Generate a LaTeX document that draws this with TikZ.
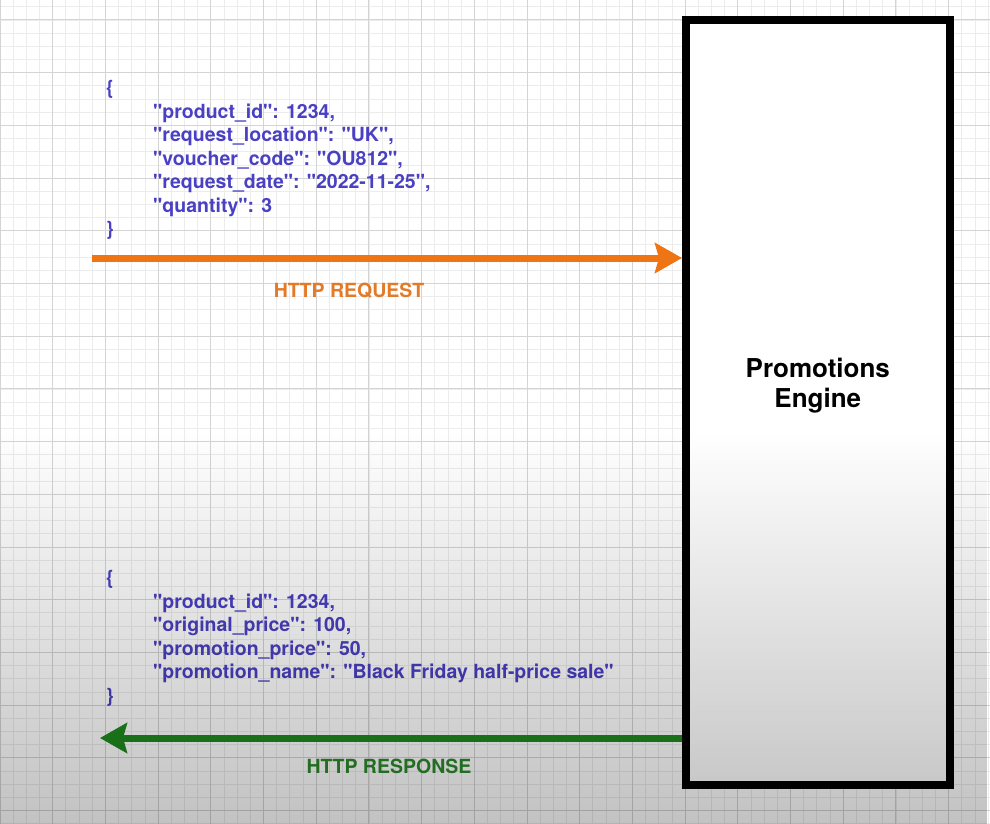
\documentclass[tikz,border=0pt]{standalone}
\usepackage{fontspec}
\setmainfont{TeX Gyre Heros}
\usetikzlibrary{arrows.meta,fadings}

\definecolor{jsoncol}{HTML}{4A40C4}
\definecolor{reqcol}{HTML}{EF7414}
\definecolor{reqtext}{HTML}{E27A28}
\definecolor{respcol}{HTML}{1F8A1F}
\definecolor{resptext}{HTML}{2C8A2C}
\definecolor{minorgrid}{HTML}{ECECEC}
\definecolor{majorgrid}{HTML}{D4D4D4}

% straight double quote for the JSON keys and strings
\newcommand{\jq}{\textquotedbl}

% darkening towards the bottom of the sheet
\tikzfading[name=floorshade, top color=transparent!100, bottom color=transparent!0]

\begin{document}
\begin{tikzpicture}[x=1pt,y=-1pt,
  minorline/.style={draw=minorgrid, line width=0.8pt},
  majorline/.style={draw=majorgrid, line width=1pt},
  json/.style={text=jsoncol, font=\fontsize{19.5}{23.5}\selectfont\bfseries,
    align=left, anchor=base west, inner sep=0pt},
  flowlabel/.style={font=\fontsize{19.5}{23.5}\selectfont\bfseries,
    anchor=base, inner sep=0pt},
  enginebox/.style={draw=black, line width=8pt, fill=white,
    minimum width=263.5pt, minimum height=765pt, inner sep=0pt},
  enginetext/.style={font=\fontsize{26}{30}\selectfont\bfseries,
    align=center, anchor=base, inner sep=0pt},
  reqarrow/.style={draw=reqcol, line width=7pt,
    -{Stealth[length=27pt, width=30pt, inset=4pt]}},
  resparrow/.style={draw=respcol, line width=7pt,
    -{Stealth[length=27pt, width=30pt, inset=4pt]}}
]
\useasboundingbox (0,0) rectangle (990,824);
\fill[white] (0,0) rectangle (990,824);

% graph paper
\foreach \i in {0,...,75}
  \draw[minorline] ({\i*13.175},0) -- ({\i*13.175},824);
\foreach \j in {0,...,62}
  \draw[minorline] (0,{6.825+\j*13.175}) -- (990,{6.825+\j*13.175});
\foreach \i in {0,...,18}
  \draw[majorline] ({\i*52.7},0) -- ({\i*52.7},824);
\foreach \j in {0,...,15}
  \draw[majorline] (0,{20+\j*52.7}) -- (990,{20+\j*52.7});

% the service (multi-line nodes sit on the baseline of their last line)
\node[enginebox] (engine) at (817.75,402.5) {};
\node[enginetext] (enginename) at (817.75,407) {Promotions\\Engine};

% request payload
\node[json] (reqjson) at (106,235.5) {\{\\
\hspace*{47pt}\jq product\_id\jq: 1234,\\
\hspace*{47pt}\jq request\_location\jq: \jq UK\jq,\\
\hspace*{47pt}\jq voucher\_code\jq: \jq OU812\jq,\\
\hspace*{47pt}\jq request\_date\jq: \jq 2022-11-25\jq,\\
\hspace*{47pt}\jq quantity\jq: 3\\
\}};

% response payload
\node[json] (respjson) at (106,702) {\{\\
\hspace*{47pt}\jq product\_id\jq: 1234,\\
\hspace*{47pt}\jq original\_price\jq: 100,\\
\hspace*{47pt}\jq promotion\_price\jq: 50,\\
\hspace*{47pt}\jq promotion\_name\jq: \jq Black Friday half-price sale\jq\\
\}};

% request / response flows
\coordinate (reqstart) at (92,258);
\coordinate (respend) at (100,738);
\draw[reqarrow] (reqstart) -- (reqstart -| engine.west);
\draw[resparrow] (respend -| engine.west) -- (respend);

\node[flowlabel, text=reqtext] (reqlabel) at (349,297) {HTTP REQUEST};
\node[flowlabel, text=resptext] (resplabel) at (389,773) {HTTP RESPONSE};

% shading over the lower part
\fill[black, fill opacity=0.24, path fading=floorshade] (0,430) rectangle (990,824);
\end{tikzpicture}
\end{document}
